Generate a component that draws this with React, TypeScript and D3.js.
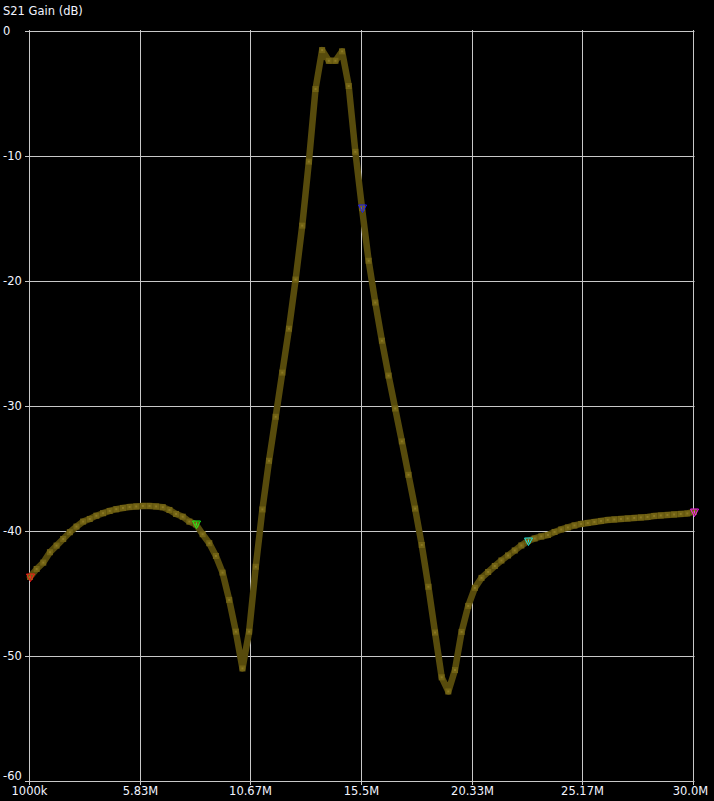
import React from 'react';
import * as d3 from 'd3';

// sweep: 101 points, 1 MHz .. 30 MHz
const sweepStartMHz = 1;
const sweepStopMHz = 30;

// S21 gain in dB, one value per sweep point
const gainDb = [
  -43.69, -43.05, -42.54, -41.71, -41.18, -40.65, -40.11, -39.66, -39.26, -39.05,
  -38.79, -38.59, -38.41, -38.27, -38.17, -38.09, -38.05, -38.01, -38.01, -38.05,
  -38.11, -38.33, -38.65, -38.87, -39.26, -39.49, -40.27, -40.99, -42.01, -43.34,
  -45.52, -48.06, -51.0, -48.06, -42.87, -38.29, -34.4, -30.88, -27.35, -23.84,
  -19.91, -15.6, -10.48, -4.68, -1.57, -2.42, -2.42, -1.67, -4.44, -9.7,
  -14.2, -18.41, -21.75, -24.8, -27.59, -30.22, -32.85, -35.52, -38.22, -41.13,
  -44.47, -48.13, -51.71, -52.84, -51.13, -48.08, -46.0, -44.56, -43.76, -43.29,
  -42.81, -42.37, -41.97, -41.57, -41.17, -40.81, -40.61, -40.45, -40.33, -40.09,
  -39.89, -39.73, -39.57, -39.45, -39.37, -39.29, -39.21, -39.13, -39.09, -39.05,
  -39.01, -38.97, -38.93, -38.89, -38.81, -38.77, -38.73, -38.69, -38.65, -38.61,
  -38.49,
];

const xTickValues = [1, 5.8333, 10.6667, 15.5, 20.3333, 25.1667, 30];
const xTickLabels = ['1000k', '5.83M', '10.67M', '15.5M', '20.33M', '25.17M', '30.0M'];
const yTickValues = [0, -10, -20, -30, -40, -50, -60];

// marker positions (sweep index) and colours
const markerIndex = [0, 25, 50, 75, 100];
const markerColors = ['#ff1a1a', '#1aff1a', '#1a1aff', '#1ae6e6', '#ff1aff'];

const W = 714;
const H = 801;
const font = '"DejaVu Sans", Verdana, sans-serif';

export default function App() {
  const x = d3.scaleLinear().domain([sweepStartMHz, sweepStopMHz]).range([30, 694]);
  const y = d3.scaleLinear().domain([0, -60]).range([30.5, 781]);

  const step = (sweepStopMHz - sweepStartMHz) / (gainDb.length - 1);
  const points = gainDb.map((g, i) => ({ f: sweepStartMHz + i * step, g }));

  const line = d3.line<{ f: number; g: number }>()
    .x(d => x(d.f))
    .y(d => y(d.g));

  const crisp = (v: number) => Math.round(v) + 0.5;

  return (
    <svg width={W} height={H} style={{ position: 'fixed', left: 0, top: 0, background: '#000' }}
      fontFamily={font}>
      <rect width={W} height={H} fill="#000" />

      {/* title */}
      <text x={3} y={15} fill="#f2f4ff" fontSize={11.5}>S21 Gain (dB)</text>

      {/* horizontal grid + y labels */}
      {yTickValues.map(v => {
        const yy = crisp(y(v));
        return (
          <g key={'y' + v}>
            <line x1={25} x2={694.5} y1={yy} y2={yy} stroke="#c8c8c8" strokeWidth={1} />
            <text x={3} y={Math.min(yy + 3.5, 779.5)} fill="#f2f4ff" fontSize={11.5}>{v}</text>
          </g>
        );
      })}

      {/* vertical grid + x labels */}
      {xTickValues.map((v, i) => {
        const xx = crisp(x(v)) - 1;
        return (
          <g key={'x' + i}>
            <line x1={xx} x2={xx} y1={30} y2={785} stroke="#c8c8c8" strokeWidth={1} />
            <text x={i === xTickValues.length - 1 ? xx - 3 : xx} y={795} fill="#f2f4ff" fontSize={11.5}
              textAnchor="middle">{xTickLabels[i]}</text>
          </g>
        );
      })}

      {/* trace */}
      <path d={line(points) || ''} fill="none" stroke="#574b0c" strokeWidth={6.5}
        strokeLinejoin="round" strokeLinecap="round" />
      {points.map((p, i) => (
        <g key={'p' + i}>
          <rect x={x(p.f) - 3} y={y(p.g) - 3} width={6} height={6} fill="#716214" />
          <rect x={x(p.f) - 1} y={y(p.g) - 1} width={2} height={2} fill="#8a7824" />
        </g>
      ))}

      {/* markers */}
      {markerIndex.map((idx, k) => {
        const cx = Math.round(x(points[idx].f)) + 0.5;
        const cy = Math.round(y(points[idx].g)) + 0.5;
        return (
          <g key={'m' + k} stroke={markerColors[k]} fill="none" strokeWidth={1}>
            <path d={`M${cx - 4},${cy - 3.5}L${cx + 4},${cy - 3.5}L${cx},${cy + 4}Z`} />
            <line x1={cx} x2={cx} y1={cy - 2} y2={cy + 1} />
          </g>
        );
      })}
    </svg>
  );
}
